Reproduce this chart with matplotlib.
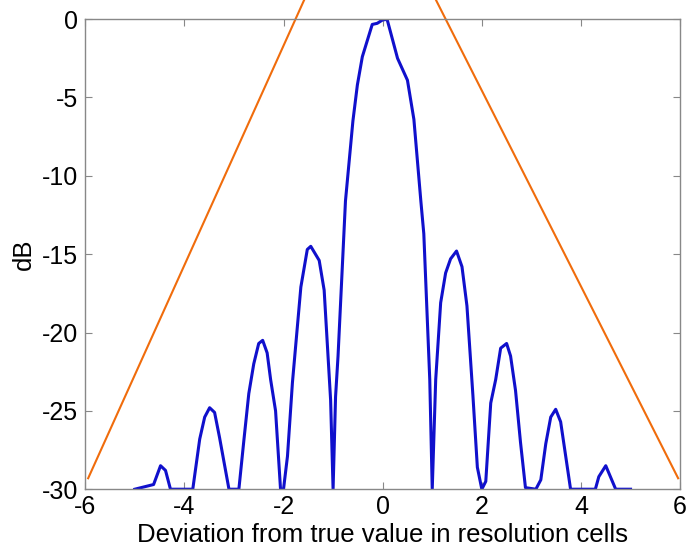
import numpy as np
import matplotlib.pyplot as plt

# Respuesta (dB) frente a la desviación, muestreada y recortada a -30 dB
desv = [-5.0, -4.62, -4.48, -4.38, -4.28, -3.83, -3.69, -3.59, -3.49, -3.39,
        -3.29, -3.1, -2.9, -2.8, -2.7, -2.6, -2.5, -2.42, -2.33, -2.26,
        -2.16, -2.06, -2.0, -1.92, -1.82, -1.65, -1.52, -1.45, -1.28, -1.18,
        -1.05, -1.0, -0.95, -0.9, -0.75, -0.6, -0.51, -0.41, -0.21, -0.11,
        0.0, 0.09, 0.3, 0.5, 0.63, 0.77, 0.83, 0.95, 1.0, 1.07,
        1.17, 1.27, 1.37, 1.49, 1.6, 1.7, 1.82, 1.91, 2.0, 2.08,
        2.18, 2.28, 2.38, 2.5, 2.58, 2.68, 2.78, 2.88, 3.09, 3.19,
        3.29, 3.39, 3.49, 3.59, 3.79, 4.29, 4.36, 4.5, 4.7, 5.0]
db = [-30.0, -29.7, -28.5, -28.8, -30.0, -30.0, -26.8, -25.4, -24.8, -25.1,
      -26.7, -30.0, -30.0, -26.9, -23.9, -22.0, -20.7, -20.5, -21.3, -23.0,
      -25.0, -30.0, -30.0, -27.9, -23.2, -17.1, -14.7, -14.5, -15.4, -17.3,
      -24.3, -30.0, -24.1, -21.5, -11.6, -6.5, -4.2, -2.4, -0.34, -0.27,
      -0.05, -0.02, -2.5, -3.9, -6.4, -11.6, -13.7, -23.0, -30.0, -23.0,
      -18.1, -16.2, -15.3, -14.8, -15.8, -18.3, -24.0, -28.6, -30.0, -29.5,
      -24.5, -23.0, -21.0, -20.7, -21.5, -23.7, -27.0, -29.9, -30.0, -29.4,
      -27.1, -25.4, -24.9, -25.7, -30.0, -30.0, -29.2, -28.5, -30.0, -30.0]

# Envolvente (líneas naranjas)
env_x = [-5.94, -0.33, 5.96]
env_y = [-29.3, 10.0, -29.3]

plt.rcParams['font.family'] = ['Liberation Sans', 'DejaVu Sans']
plt.rcParams['axes.unicode_minus'] = False

fig = plt.figure(figsize=(6.87, 5.46), dpi=100)
ax = fig.add_axes([0.124, 0.104, 0.866, 0.861])

ax.plot(desv, db, '-', color='#1010cc', linewidth=2.2)
ax.plot(env_x, env_y, '-', color='#f06c0c', linewidth=1.5, clip_on=False)

ax.set_xlim(-6, 6)
ax.set_ylim(-30, 0)
ax.set_xticks(np.arange(-6, 7, 2))
ax.set_yticks(np.arange(-30, 1, 5))
ax.tick_params(direction='in', length=5, width=0.8, color='#888888',
               top=True, right=True, labelsize=18, pad=5)
ax.tick_params(axis='x', pad=4)
for s in ax.spines.values():
    s.set_color('#888888')
    s.set_linewidth(1.0)

ax.set_xlabel('Deviation from true value in resolution cells', fontsize=18.5, labelpad=3)
ax.set_ylabel('dB', fontsize=18.5, labelpad=4)

plt.savefig('out.png', dpi=100)
